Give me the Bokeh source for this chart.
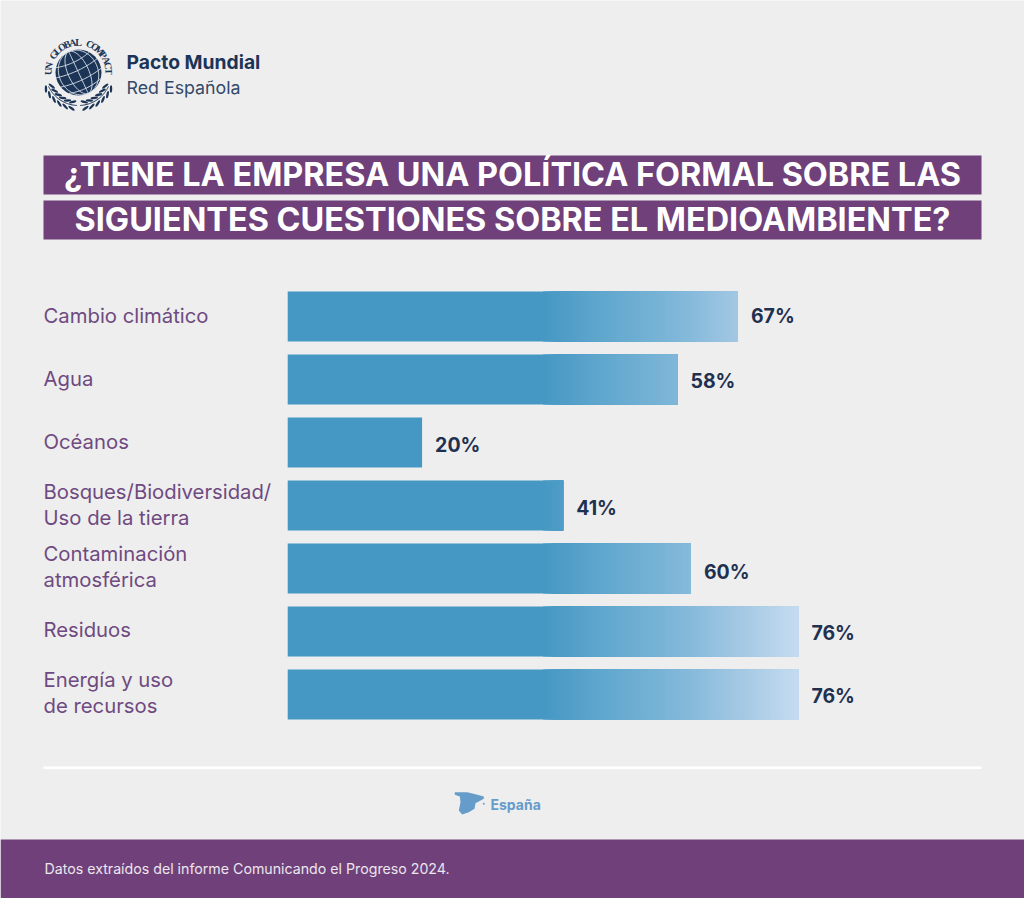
import math
from bokeh.plotting import figure
from bokeh.models import Range1d
from bokeh.core.properties import value
from bokeh.embed import file_html
from bokeh.resources import INLINE

categories = ["Cambio climático", "Agua", "Océanos", "Bosques/Biodiversidad/\nUso de la tierra",
              "Contaminación\natmosférica", "Residuos", "Energía y uso\nde recursos"]
values = [67, 58, 20, 41, 60, 76, 76]
title_lines = ["¿TIENE LA EMPRESA UNA POLÍTICA FORMAL SOBRE LAS",
               "SIGUIENTES CUESTIONES SOBRE EL MEDIOAMBIENTE?"]
footer_text = "Datos extraídos del informe Comunicando el Progreso 2024."
scope_label = "España"

BG, PURPLE, LABEL, NAVY, BASE = "#eeeeee", "#6f4079", "#6e4a80", "#1f3150", "#4597c4"
FONT = "Inter"
W, H = 1024, 898
X0, PX_PER_PCT = 287.2, 6.72

p = figure(width=W, height=H, output_backend="svg", toolbar_location=None,
           x_range=Range1d(-X0 / PX_PER_PCT, (W - X0) / PX_PER_PCT), y_range=Range1d(H, 0),
           min_border=0, outline_line_color=None, background_fill_color=BG, border_fill_color=BG)
p.extra_x_ranges["px"] = Range1d(0, W)
p.axis.visible = False
p.grid.visible = False
p.styles = {"position": "absolute", "left": "0px", "top": "0px"}


def band(x0, x1, y0, y1, color):
    p.quad(left=[x0], right=[x1], top=[y0], bottom=[y1], fill_color=color, line_color=None, x_range_name="px")


def label(x, y, txt, size, color, style="normal", font=FONT, align="left", angle=0):
    p.text([x], [y], text=[txt], x_range_name="px", text_font=value(font), text_font_size=f"{size}px",
           text_font_style=style, text_color=color, text_align=align, text_baseline="middle", angle=angle)


# ---- title and footer
band(43, 981, 155, 194, PURPLE)
band(43, 981, 200, 239, PURPLE)
label(512, 173.5, title_lines[0], 32.4, "#ffffff", "bold", align="center")
label(512, 219, title_lines[1], 32.4, "#ffffff", "bold", align="center")
band(43, 981, 766, 768.5, "#ffffff")
band(0, W, 839, H, PURPLE)
label(44, 867.5, footer_text, 14.2, "#ece6ee")

# ---- bars
STOPS = [(37.6, (0x45, 0x97, 0xc4)), (46, (0x5f, 0xa6, 0xcd)), (58, (0x80, 0xb7, 0xd9)),
         (67, (0xa3, 0xc8, 0xe3)), (76, (0xc6, 0xdc, 0xf0))]


def shade(v):
    for (a, ca), (b, cb) in zip(STOPS, STOPS[1:]):
        if v <= b:
            t = (v - a) / (b - a)
            return "#%02x%02x%02x" % tuple(round(m + (n - m) * t) for m, n in zip(ca, cb))
    return "#c6dcf0"


centers = [316 + 63 * i for i in range(len(values))]
p.hbar(y=centers, left=0, right=[min(v, STOPS[0][0] + 1) for v in values], height=50,
       fill_color=BASE, line_color=None)

lefts, rights, ys, colors = [], [], [], []
for c, v in zip(centers, values):
    s = STOPS[0][0] + 0.4
    while s < v:
        lefts.append(s)
        rights.append(v)
        ys.append(c)
        colors.append(shade(s))
        s += 0.4
p.hbar(y=ys, left=lefts, right=rights, height=50, fill_color=colors, line_color=None)

# small per-row nudges of the texts, as placed in the reference
value_dy = [-1, 1, 2, 2, 3, 1, 1]
label_dy = [-1, -1, -1, -1, -2, -2, -2]

p.text(x=values, y=[c + d for c, d in zip(centers, value_dy)], text=[f"{v}%" for v in values], x_offset=13,
       text_font=value(FONT), text_font_size="19.5px", text_font_style="bold", text_color=NAVY,
       text_baseline="middle")

for c, d, cat in zip(centers, label_dy, categories):
    parts = cat.split("\n")
    offs = [0] if len(parts) == 1 else [-13, 13]
    for part, off in zip(parts, offs):
        label(43, c + d + off, part, 20.3, LABEL)

# ---- logo
GX, GY, GR = 78, 72, 23
INK, GRID = "#1c3557", "#dfe6ee"
p.circle([GX], [GY], radius=GR, fill_color=INK, line_color=None, x_range_name="px")
t = math.radians(-25)


def rot(ex, ey):
    return GX + ex * math.cos(t) - ey * math.sin(t), GY + ex * math.sin(t) + ey * math.cos(t)


for k in (0.0, 0.45, -0.45, 0.85, -0.85):
    pts = [rot(k * GR * math.cos(a), GR * math.sin(a))
           for a in (-math.pi / 2 + math.pi * j / 40 for j in range(41))]
    p.line([q[0] for q in pts], [q[1] for q in pts], line_color=GRID, line_width=0.9, x_range_name="px")
for lat in (-0.6, -0.2, 0.25, 0.65):
    half = math.sqrt(1 - lat * lat)
    pts = [rot(u * half * GR, lat * GR + (1 - u * u) * 2.5) for u in (-1 + 2 * j / 30 for j in range(31))]
    p.line([q[0] for q in pts], [q[1] for q in pts], line_color=GRID, line_width=0.9, x_range_name="px")

arc_text = "UN GLOBAL COMPACT"
for i, ch in enumerate(arc_text):
    th = math.radians(178 - i * 176 / (len(arc_text) - 1))
    label(GX + 30.5 * math.cos(th), GY - 30.5 * math.sin(th), ch, 10, INK, "bold", "Liberation Serif", "center",
          th - math.pi / 2)

# laurel: stem arc and two rows of leaves on each side
for side in (-1, 1):
    stem = [math.radians(205 + j * 62 / 30) for j in range(31)]
    p.line([GX + side * 33 * abs(math.cos(a)) for a in stem], [GY - 33 * math.sin(a) for a in stem],
           line_color=INK, line_width=1.0, x_range_name="px")
    for rr, tilt in ((36.5, 0.45), (30, -0.45)):
        n = 6
        aa = [math.radians(207 + j * 52 / (n - 1)) for j in range(n)]
        p.ellipse([GX + side * rr * abs(math.cos(a)) for a in aa], [GY - rr * math.sin(a) for a in aa],
                  width=7.5, height=2.4,
                  angle=[-side * (a - math.radians(270)) + side * tilt for a in aa],
                  fill_color=INK, line_color=None, x_range_name="px")

label(126, 61.5, "Pacto Mundial", 19.3, INK, "bold")
label(126, 86.5, "Red Española", 17.8, "#33496a")

# ---- Spain marker
spain_x = [454.3, 466.7, 474, 483.3, 483.3, 475, 474, 468.3, 461.7, 458.3, 460, 459.3, 454.3]
spain_y = [791.7, 791.7, 793.5, 796, 798.3, 802.7, 808.3, 811.7, 814, 810, 801.7, 796, 794.3]
p.patch(spain_x, spain_y, fill_color="#659cca", line_color=None, x_range_name="px")
p.circle([483.3], [803.3], radius=1, fill_color="#659cca", line_color=None, x_range_name="px")
label(490, 804, scope_label, 14, "#659cca", "bold")

open("out.html", "w").write(file_html(p, INLINE))
